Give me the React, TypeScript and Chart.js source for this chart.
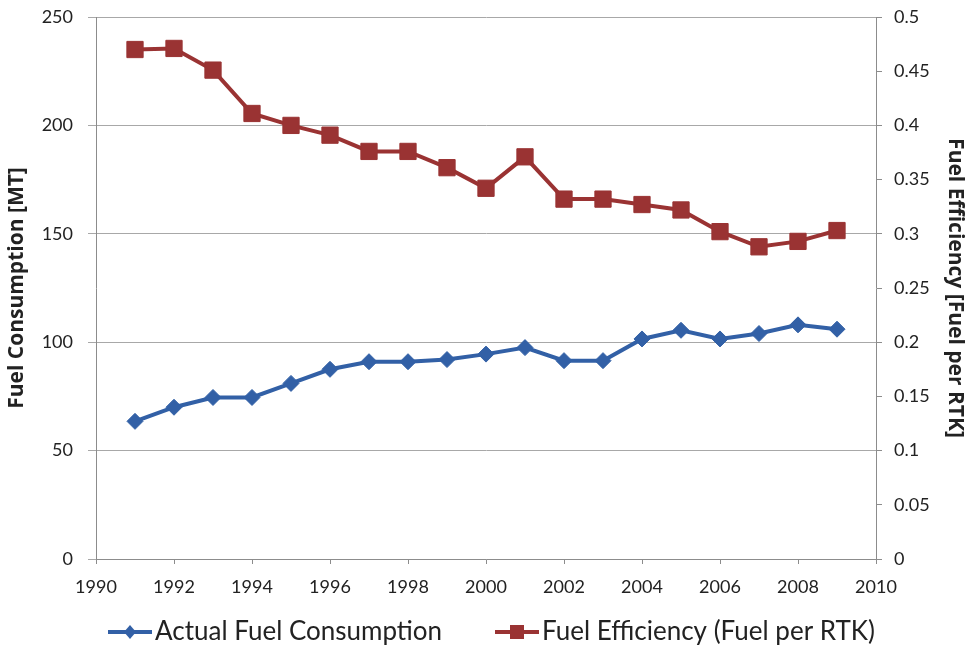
import React, { useEffect, useRef } from 'react';
import { Chart, registerables } from 'chart.js';

Chart.register(...registerables);

const years = [1991, 1992, 1993, 1994, 1995, 1996, 1997, 1998, 1999, 2000, 2001, 2002, 2003, 2004, 2005, 2006, 2007, 2008, 2009];
const actualFuelConsumption = [63.5, 70, 74.5, 74.5, 81, 87.5, 91, 91, 92, 94.5, 97.5, 91.5, 91.5, 101.5, 105.5, 101.5, 104, 108, 106];
const fuelEfficiency = [0.47, 0.471, 0.451, 0.411, 0.4, 0.391, 0.376, 0.376, 0.361, 0.342, 0.371, 0.332, 0.332, 0.327, 0.322, 0.302, 0.288, 0.293, 0.303];
const seriesLabels = ['Actual Fuel Consumption', 'Fuel Efficiency (Fuel per RTK)'];
const leftTitle = 'Fuel Consumption [MT]';
const rightTitle = 'Fuel Efficiency [Fuel per RTK]';

const BLUE = '#3260A6';
const RED = '#9A3333';
const TEXT = '#222222';
const FONT = 'Lato';
const TITLE_FONT = '"Open Sans"';

const legendPlugin = {
  id: 'lineMarkerLegend',
  afterDraw(chart: any) {
    const ctx = chart.ctx;
    const y = 632;
    const starts = [108, 495];
    ctx.save();
    chart.data.datasets.forEach((ds: any, i: number) => {
      const x0 = starts[i];
      const len = 44;
      ctx.strokeStyle = ds.borderColor;
      ctx.lineWidth = 4;
      ctx.beginPath();
      ctx.moveTo(x0, y);
      ctx.lineTo(x0 + len, y);
      ctx.stroke();
      const cx = x0 + len / 2;
      ctx.fillStyle = ds.borderColor;
      ctx.beginPath();
      if (ds.pointStyle === 'rectRot') {
        ctx.moveTo(cx, y - 7);
        ctx.lineTo(cx + 6, y);
        ctx.lineTo(cx, y + 7);
        ctx.lineTo(cx - 6, y);
        ctx.closePath();
      } else {
        ctx.rect(cx - 7, y - 7, 14, 14);
      }
      ctx.fill();
      ctx.fillStyle = TEXT;
      ctx.font = `26px ${FONT}`;
      ctx.textBaseline = 'middle';
      ctx.textAlign = 'left';
      ctx.fillText(ds.label, x0 + len + 3, y);
    });
    ctx.restore();
  },
};

const fixVertical = (w: number) => (s: any) => {
  s.width = w;
  s.paddingTop = 0;
  s.paddingBottom = 0;
};

export default function App() {
  const ref = useRef<HTMLCanvasElement | null>(null);
  useEffect(() => {
    document.body.style.margin = '0';
    const canvas = ref.current;
    if (!canvas) return;
    const chart = new Chart(canvas, {
      type: 'line',
      data: {
        datasets: [
          {
            label: seriesLabels[0],
            data: years.map((x, i) => ({ x, y: actualFuelConsumption[i] })),
            yAxisID: 'y',
            borderColor: BLUE,
            backgroundColor: BLUE,
            borderWidth: 4,
            pointStyle: 'rectRot',
            pointRadius: 8,
            pointBorderWidth: 1,
            pointBackgroundColor: BLUE,
            pointBorderColor: BLUE,
            tension: 0,
          },
          {
            label: seriesLabels[1],
            data: years.map((x, i) => ({ x, y: fuelEfficiency[i] })),
            yAxisID: 'y1',
            borderColor: RED,
            backgroundColor: RED,
            borderWidth: 4,
            pointStyle: 'rect',
            pointRadius: 11.5,
            pointBorderWidth: 1,
            pointBackgroundColor: RED,
            pointBorderColor: RED,
            tension: 0,
          },
        ],
      },
      options: {
        responsive: false,
        animation: false,
        devicePixelRatio: 1,
        layout: { padding: { top: 17, left: 0, right: 0, bottom: 0 } },
        plugins: {
          legend: { display: false },
          tooltip: { enabled: false },
        },
        scales: {
          x: {
            type: 'linear',
            min: 1990,
            max: 2010,
            afterFit: (s: any) => { s.height = 87; s.paddingLeft = 0; s.paddingRight = 0; },
            ticks: {
              stepSize: 2,
              color: TEXT,
              font: { family: FONT, size: 18 },
              padding: 12,
              maxRotation: 0,
              callback: (v: any) => String(v),
            },
            grid: { drawOnChartArea: false, tickLength: 5, color: '#8c8c8c' },
            border: { color: '#8c8c8c' },
          },
          y: {
            type: 'linear',
            position: 'left',
            min: 0,
            max: 250,
            afterFit: fixVertical(96),
            ticks: {
              stepSize: 50,
              color: TEXT,
              font: { family: FONT, size: 18 },
              padding: 15,
            },
            grid: { color: '#a8a8a8', tickLength: 8 },
            border: { color: '#8c8c8c' },
            title: {
              display: true,
              text: leftTitle,
              color: TEXT,
              font: { family: TITLE_FONT, size: 21, weight: 'bold' },
              padding: { top: 4, bottom: 0 },
            },
          },
          y1: {
            type: 'linear',
            position: 'right',
            min: 0,
            max: 0.5,
            afterFit: fixVertical(92),
            ticks: {
              stepSize: 0.05,
              color: TEXT,
              font: { family: FONT, size: 18 },
              padding: 12,
              callback: (v: any) => String(Math.round(Number(v) * 100) / 100),
            },
            grid: { drawOnChartArea: false, tickLength: 6, color: '#8c8c8c' },
            border: { color: '#8c8c8c' },
            title: {
              display: true,
              text: rightTitle,
              color: TEXT,
              font: { family: TITLE_FONT, size: 21, weight: 'bold' },
              padding: { top: 0, bottom: 0 },
            },
          },
        },
      },
      plugins: [legendPlugin],
    });
    return () => chart.destroy();
  }, []);
  return <canvas ref={ref} width={968} height={646} style={{ display: 'block' }} />;
}
